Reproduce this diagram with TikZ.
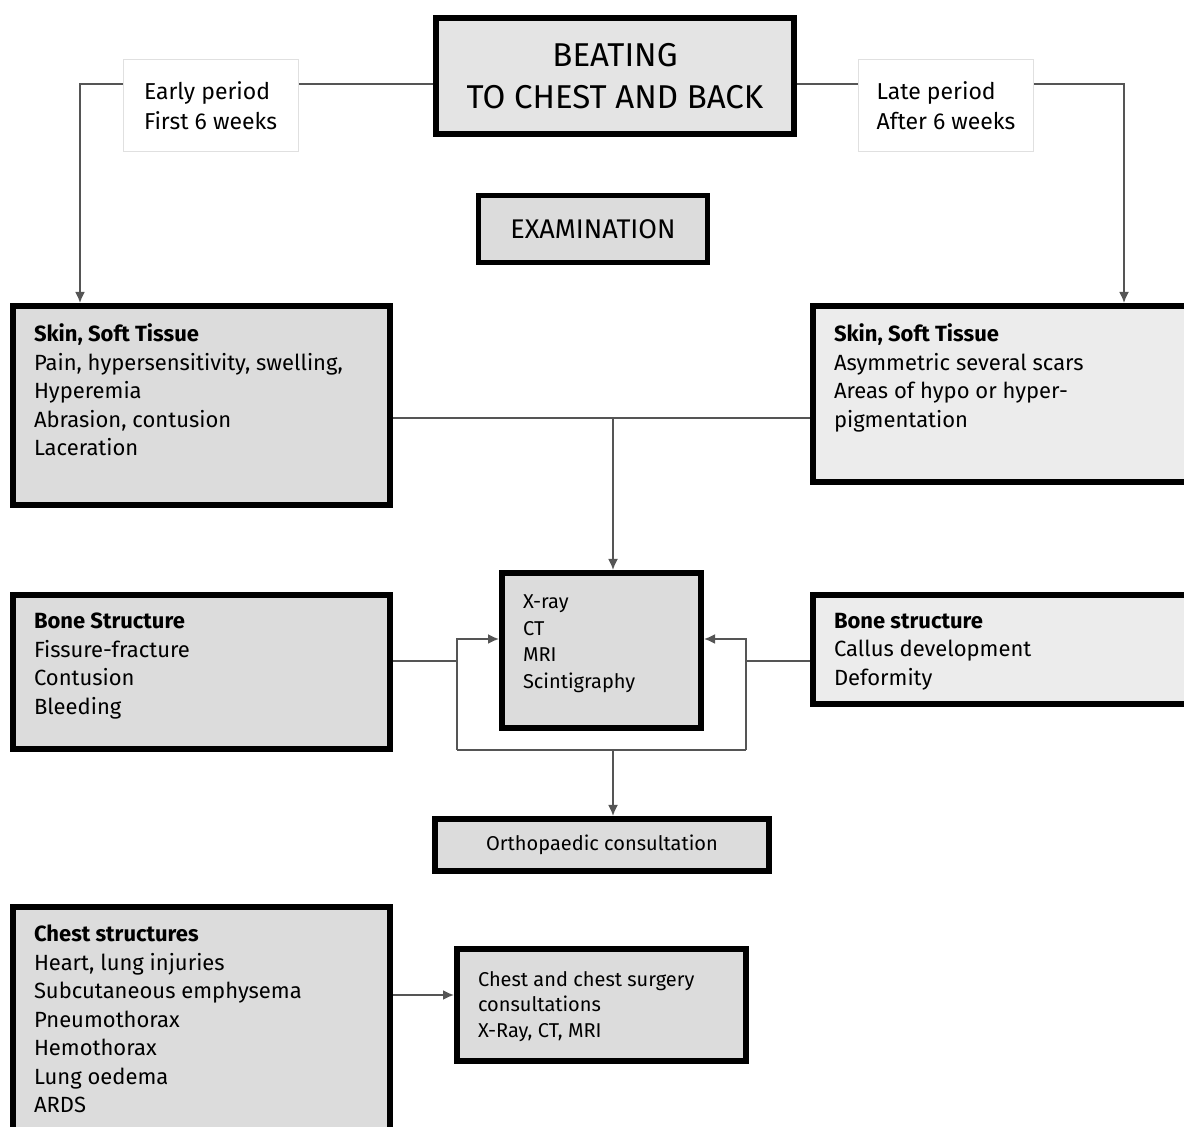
\documentclass[tikz,border=0pt]{standalone}
\usepackage{fontspec}
\setmainfont{Fira Sans}
\usetikzlibrary{arrows.meta, positioning}
\definecolor{boxGray}{HTML}{DCDCDC}
\definecolor{boxLight}{HTML}{ECECEC}
\definecolor{topGray}{HTML}{E4E4E4}
\definecolor{linkGray}{HTML}{555555}
\newcommand{\boxLines}[3]{\parbox[c][#2][t]{#1}{\raggedright #3}}
\tikzset{
    mainBox/.style={
        draw=black,
        line width=3pt,
        fill=boxGray,
        inner xsep=10.5pt,
        inner ysep=9pt,
        font=\fontsize{11}{14.25}\selectfont
    },
    smallBox/.style={
        mainBox,
        inner ysep=11pt,
        font=\fontsize{10}{13.25}\selectfont
    },
    titleBox/.style={
        draw=black,
        line width=3pt,
        fill=topGray,
        align=center,
        inner sep=0pt
    },
    periodBox/.style={
        draw=black!12,
        line width=0.5pt,
        fill=white,
        align=left,
        inner sep=0pt,
        minimum width=87.5pt,
        minimum height=46pt,
        font=\fontsize{11.5}{15}\selectfont
    },
    link/.style={
        draw=linkGray,
        line width=0.9pt
    }
}

\begin{document}
\begin{tikzpicture}[x=0.5pt, y=-0.5pt, >={Latex[length=5.5pt, width=5pt]}]
    \useasboundingbox (0,0) rectangle (1184,1127);

    % Header
    \node[titleBox, minimum width=179pt, minimum height=58pt,
          font=\fontsize{16.5}{21}\selectfont] (beatBox) at (615,76)
        {BEATING\\TO CHEST AND BACK};
    \node[periodBox] (earlyBox) at (210.5,106) {Early period\\First 6 weeks};
    \node[periodBox] (lateBox) at (946,106) {Late period\\After 6 weeks};
    \node[titleBox, line width=2.5pt, fill=boxGray, minimum width=114.5pt,
          minimum height=33.5pt, font=\fontsize{13.5}{16}\selectfont] (examBox) at (593,229)
        {EXAMINATION};

    % Findings
    \node[mainBox] (skinEarly) at (201.5,405.5)
        {\boxLines{167.5pt}{81.5pt}{\textbf{Skin, Soft Tissue}\\
         Pain, hypersensitivity, swelling,\\Hyperemia\\Abrasion, contusion\\Laceration}};
    \node[mainBox, fill=boxLight] (skinLate) at (1000,394)
        {\boxLines{166pt}{70pt}{\textbf{Skin, Soft Tissue}\\
         Asymmetric several scars\\Areas of hypo or hyper-\\pigmentation}};
    \node[mainBox] (boneEarly) at (201.5,672)
        {\boxLines{167.5pt}{59pt}{\textbf{Bone Structure}\\
         Fissure-fracture\\Contusion\\Bleeding}};
    \node[mainBox, fill=boxLight] (boneLate) at (1000,649.5)
        {\boxLines{166pt}{36.5pt}{\textbf{Bone structure}\\
         Callus development\\Deformity}};
    \node[mainBox] (chestBox) at (201.5,1020)
        {\boxLines{167.5pt}{95pt}{\textbf{Chest structures}\\
         Heart, lung injuries\\Subcutaneous emphysema\\Pneumothorax\\
         Hemothorax\\Lung oedema\\ARDS}};

    % Imaging and consultations
    \node[smallBox] (xrayBox) at (601.5,650.5)
        {\boxLines{78.5pt}{55.5pt}{X-ray\\CT\\MRI\\Scintigraphy}};
    \node[titleBox, fill=boxGray, minimum width=167pt, minimum height=26pt,
          font=\fontsize{10}{12}\selectfont] (orthoBox) at (602,845)
        {Orthopaedic consultation};
    \node[smallBox, font=\fontsize{10}{12.75}\selectfont] (surgeryBox) at (601.5,1005)
        {\boxLines{123.5pt}{34pt}{Chest and chest surgery\\
         consultations\\X-Ray, CT, MRI}};

    % Turning points
    \coordinate (earlyTurn) at (80,84);
    \coordinate (lateTurn) at (1124,84);
    \coordinate (skinJoin) at (613,418);
    \coordinate (boneInL) at (457,661);
    \coordinate (boneInR) at (746,661);
    \coordinate (loopNW) at (457,639);
    \coordinate (loopSW) at (457,750);
    \coordinate (loopNE) at (746,639);
    \coordinate (loopSE) at (746,750);
    \coordinate (loopOut) at (613,750);

    % Period lines
    \draw[link] (beatBox.west |- earlyTurn) -- (earlyBox.east |- earlyTurn);
    \draw[link, ->] (earlyBox.west |- earlyTurn) -- (earlyTurn) -- (skinEarly.north -| earlyTurn);
    \draw[link] (beatBox.east |- lateTurn) -- (lateBox.west |- lateTurn);
    \draw[link, ->] (lateBox.east |- lateTurn) -- (lateTurn) -- (skinLate.north -| lateTurn);

    % Skin to imaging
    \draw[link] (skinEarly.east |- skinJoin) -- (skinLate.west |- skinJoin);
    \draw[link, ->] (skinJoin) -- (xrayBox.north -| skinJoin);

    % Bone loop
    \draw[link] (boneEarly.east |- boneInL) -- (boneInL);
    \draw[link] (boneLate.west |- boneInR) -- (boneInR);
    \draw[link, ->] (loopSW) -- (loopNW) -- (xrayBox.west |- loopNW);
    \draw[link, ->] (loopSE) -- (loopNE) -- (xrayBox.east |- loopNE);
    \draw[link] (loopSW) -- (loopSE);
    \draw[link, ->] (loopOut) -- (orthoBox.north -| loopOut);

    % Chest
    \path (chestBox.east |- surgeryBox.west) ++(0,-10) coordinate (chestOut);
    \draw[link, ->] (chestOut) -- (surgeryBox.west |- chestOut);
\end{tikzpicture}
\end{document}
